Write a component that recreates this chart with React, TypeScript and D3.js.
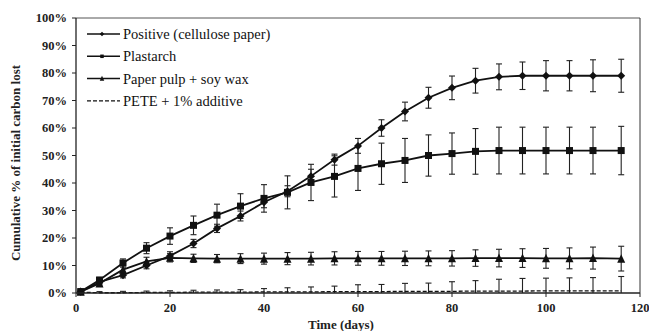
import * as d3 from 'd3';
import React from 'react';

// sampling days
const days = [1, 5, 10, 15, 20, 25, 30, 35, 40, 45, 50, 55, 60, 65, 70, 75, 80, 85, 90, 95, 100, 105, 110, 116];

// cumulative % of initial carbon lost
const positive = [0.5, 4, 6.5, 10, 13.5, 18, 23.5, 28, 33, 37, 42.5, 48.5, 53.5, 60, 66, 71, 74.6, 77.2, 78.6, 79, 79, 79, 79, 79];
const positiveErr = [0.5, 1, 1, 1.2, 1.5, 1.5, 1.5, 1.8, 2, 2, 2.5, 2, 2.7, 3, 3.4, 3.8, 4.3, 4.5, 4.7, 5, 5.5, 5.5, 5.8, 6];

const plastarch = [0.5, 4.7, 10.9, 16.3, 20.7, 24.6, 28.3, 31.6, 34.4, 36.6, 40.2, 42.4, 45.3, 47, 48.2, 50, 50.7, 51.5, 51.8, 51.8, 51.8, 51.8, 51.8, 51.8];
const plastarchErr = [0.5, 1, 1.5, 2, 3, 3.4, 4, 4.5, 5, 6, 6.6, 7.5, 8, 7.5, 8, 7.5, 7.5, 8.3, 8.5, 8.5, 8.5, 8.5, 8.5, 8.8];

const pulp = [0.5, 3.5, 8.5, 11.5, 12.8, 12.6, 12.5, 12.5, 12.5, 12.5, 12.5, 12.6, 12.6, 12.6, 12.6, 12.6, 12.6, 12.7, 12.7, 12.7, 12.6, 12.6, 12.7, 12.5];
const pulpErr = [0.5, 1, 1.5, 1.5, 1.5, 1.5, 1.5, 1.8, 2, 2.2, 2.3, 2.4, 2.5, 2.5, 2.6, 2.7, 2.8, 3, 3.2, 3.4, 3.6, 3.8, 4, 4.5];

const pete = [0.3, 0.1, 0.1, 0.2, 0.2, 0.3, 0.3, 0.3, 0.4, 0.4, 0.4, 0.5, 0.5, 0.5, 0.6, 0.6, 0.6, 0.7, 0.7, 0.7, 0.8, 0.8, 0.8, 0.8];
const peteErr = [1.2, 0.4, 0.5, 0.5, 0.6, 0.7, 0.8, 0.9, 1.2, 1.5, 1.8, 2, 2.5, 2.6, 2.9, 3, 3.5, 3.8, 4.3, 4.6, 4.6, 4.7, 4.8, 5.2];

const legendLabels = ['Positive (cellulose paper)', 'Plastarch', 'Paper pulp + soy wax', 'PETE + 1% additive'];
const yTicks = [0, 10, 20, 30, 40, 50, 60, 70, 80, 90, 100];
const xTicks = [0, 20, 40, 60, 80, 100, 120];

const W = 649;
const H = 331;
const margin = { top: 18, right: 9, bottom: 38, left: 76 };

const x = d3.scaleLinear().domain([0, 120]).range([margin.left, W - margin.right]);
const y = d3.scaleLinear().domain([0, 100]).range([H - margin.bottom, margin.top]);

const series = [
  { name: legendLabels[0], values: positive, err: positiveErr, marker: 'diamond', dash: null },
  { name: legendLabels[1], values: plastarch, err: plastarchErr, marker: 'square', dash: null },
  { name: legendLabels[2], values: pulp, err: pulpErr, marker: 'triangle', dash: null },
  { name: legendLabels[3], values: pete, err: peteErr, marker: 'none', dash: '4,2' },
];

function Marker({ type, cx, cy, size = 8 }) {
  const s = size / 2;
  if (type === 'diamond') {
    return <path d={`M${cx},${cy - s}L${cx + s},${cy}L${cx},${cy + s}L${cx - s},${cy}Z`} fill="#111" />;
  }
  if (type === 'square') {
    return <rect x={cx - s + 0.5} y={cy - s + 0.5} width={size - 1} height={size - 1} fill="#111" />;
  }
  if (type === 'triangle') {
    return <path d={`M${cx},${cy - s - 0.5}L${cx + s},${cy + s}L${cx - s},${cy + s}Z`} fill="#111" />;
  }
  return null;
}

export default function App() {
  const line = d3.line<number>().x((_, i) => x(days[i])).y(d => y(d));
  const font = '"Liberation Serif", "Times New Roman", serif';
  const x0 = margin.left;
  const x1 = W - margin.right;
  const y0 = H - margin.bottom;
  const y1 = margin.top;

  return (
    <svg width={W} height={H} style={{ position: 'absolute', left: 0, top: 0, background: '#fff' }} fontFamily={font}>
      {/* frame */}
      <line x1={x0} y1={y1} x2={x1} y2={y1} stroke="#555" strokeWidth={1} />
      <line x1={x1} y1={y1} x2={x1} y2={y0} stroke="#333" strokeWidth={1} />

      {/* error bars */}
      {series.map((s, si) => (
        <g key={'e' + si} stroke="#222" strokeWidth={1.1}>
          {s.values.map((v, i) => {
            const cx = x(days[i]);
            const top = y(v + s.err[i]);
            const bot = y(Math.max(0, v - s.err[i]));
            return (
              <g key={i}>
                <line x1={cx} x2={cx} y1={top} y2={bot} />
                <line x1={cx - 3} x2={cx + 3} y1={top} y2={top} />
                {v - s.err[i] > 0 && <line x1={cx - 3} x2={cx + 3} y1={bot} y2={bot} />}
              </g>
            );
          })}
        </g>
      ))}

      {/* lines and markers */}
      {series.map((s, si) => (
        <g key={'l' + si}>
          <path d={line(s.values) || ''} fill="none" stroke="#111" strokeWidth={s.dash ? 1.3 : 1.8} strokeDasharray={s.dash || undefined} />
          {s.values.map((v, i) => (
            <Marker key={i} type={s.marker} cx={x(days[i])} cy={y(v)} />
          ))}
        </g>
      ))}

      {/* axes */}
      <line x1={x0} y1={y1} x2={x0} y2={y0} stroke="#222" strokeWidth={1.3} />
      <line x1={x0} y1={y0} x2={x1} y2={y0} stroke="#222" strokeWidth={1.3} />
      {yTicks.map(t => (
        <g key={'y' + t}>
          <line x1={x0 - 4} x2={x0} y1={y(t)} y2={y(t)} stroke="#222" />
          <text x={x0 - 9} y={y(t)} dy="0.35em" textAnchor="end" fontSize={12.5} fontWeight="bold" fill="#222">
            {t}%
          </text>
        </g>
      ))}
      {xTicks.map(t => (
        <g key={'x' + t}>
          <line x1={x(t)} x2={x(t)} y1={y0} y2={y0 + 4} stroke="#222" />
          <text x={x(t)} y={y0 + 19} textAnchor="middle" fontSize={12.5} fontWeight="bold" fill="#222">
            {t}
          </text>
        </g>
      ))}
      <text x={341} y={329} textAnchor="middle" fontSize={13} fontWeight="bold" fill="#222">
        Time (days)
      </text>
      <text transform="translate(20,163) rotate(-90)" textAnchor="middle" fontSize={13} fontWeight="bold" fill="#222">
        Cumulative % of initial carbon lost
      </text>

      {/* legend */}
      {series.map((s, i) => {
        const ly = 34 + i * 22.3;
        return (
          <g key={'lg' + i}>
            <line x1={87} x2={120} y1={ly} y2={ly} stroke="#111" strokeWidth={s.dash ? 1.2 : 1.5} strokeDasharray={s.dash || undefined} />
            <Marker type={s.marker} cx={102} cy={ly} size={4.5} />
            <text x={123} y={ly} dy="0.35em" fontSize={14.5} fill="#111">
              {s.name}
            </text>
          </g>
        );
      })}
    </svg>
  );
}
